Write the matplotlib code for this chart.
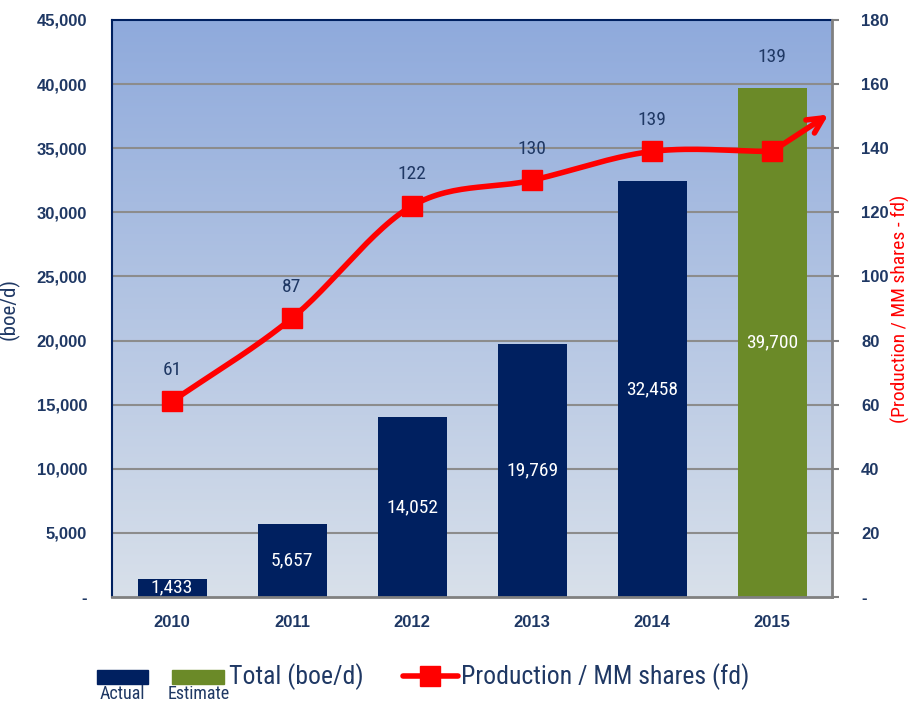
import numpy as np
import matplotlib
matplotlib.use("Agg")
import matplotlib.pyplot as plt
from matplotlib.patches import Rectangle
from matplotlib.lines import Line2D
from matplotlib.colors import LinearSegmentedColormap

years = ['2010', '2011', '2012', '2013', '2014', '2015']
total_boed = [1433, 5657, 14052, 19769, 32458, 39700]
per_share = [61, 87, 122, 130, 139, 139]
is_estimate = [False, False, False, False, False, True]

NAVY = '#002060'
GREEN = '#6B8A28'
RED = '#FF0000'
TXT = '#1F3864'
NARROW = ['Roboto Condensed', 'DejaVu Sans']
TICKF = ['Liberation Sans', 'DejaVu Sans']


def smooth(xs, ys, n=30):
    # catmull-rom through the points, like Excel's smoothed line
    xs = np.asarray(xs, float)
    ys = np.asarray(ys, float)
    px = np.concatenate([[2 * xs[0] - xs[1]], xs, [2 * xs[-1] - xs[-2]]])
    py = np.concatenate([[2 * ys[0] - ys[1]], ys, [2 * ys[-1] - ys[-2]]])
    ox, oy = [], []
    t = np.linspace(0, 1, n)
    for i in range(1, len(px) - 2):
        for p, out in ((px, ox), (py, oy)):
            p0, p1, p2, p3 = p[i - 1], p[i], p[i + 1], p[i + 2]
            out.extend(0.5 * (2 * p1 + (-p0 + p2) * t + (2 * p0 - 5 * p1 + 4 * p2 - p3) * t ** 2
                              + (-p0 + 3 * p1 - 3 * p2 + p3) * t ** 3))
    return np.array(ox), np.array(oy)


fig = plt.figure(figsize=(9.1, 7.05), dpi=100)
ax = fig.add_axes([112 / 910, 108 / 705, 720 / 910, 577 / 705])
x = np.arange(len(years))

# gradient background
grad = LinearSegmentedColormap.from_list('bg', ['#D8E0EA', '#8FAADC'])
ax.imshow(np.linspace(0, 1, 256).reshape(-1, 1), cmap=grad, origin='lower', aspect='auto',
          extent=(-0.5, 5.5, 0, 45000), zorder=0)
ax.set_xlim(-0.5, 5.5)
ax.set_ylim(0, 45000)

for v in range(5000, 45000, 5000):
    ax.axhline(v, color='#8C8C8C', lw=1.5, zorder=0.5)

colors = [GREEN if e else NAVY for e in is_estimate]
ax.bar(x, total_boed, width=0.575, color=colors, zorder=2)
for xi, v in zip(x, total_boed):
    ax.text(xi, v / 2, f'{v:,}', ha='center', va='center', color='white', fontsize=14,
            family=NARROW, zorder=3)

ax.set_xticks(x)
ax.set_xticklabels(years, fontsize=12, fontweight='bold', color=TXT, family=TICKF)
ax.set_yticks(range(0, 45001, 5000))
ax.set_yticklabels(['-'] + [f'{v:,}' for v in range(5000, 45001, 5000)],
                   fontsize=12, fontweight='bold', color=TXT, family=TICKF)
ax.tick_params(axis='y', length=0, pad=18)
ax.tick_params(axis='x', length=0, pad=13)
ax.set_ylabel('(boe/d)', family=NARROW, fontsize=15, color=TXT)
ax.yaxis.set_label_coords(-0.128, 0.5)

for s in ('left', 'top'):
    ax.spines[s].set_color(NAVY)
    ax.spines[s].set_linewidth(1.5)
ax.spines['bottom'].set_color('#808080')
ax.spines['bottom'].set_linewidth(2)
ax.spines['right'].set_visible(False)

# per-share line on right axis
ax2 = ax.twinx()
ax2.set_ylim(0, 180)
ax2.patch.set_visible(False)
sx, sy = smooth(x, per_share)
ax2.plot(sx, sy, color=RED, lw=4, zorder=4, solid_capstyle='round')
ax2.plot(x, per_share, ls='none', marker='s', ms=15, color=RED, zorder=5)
ax2.annotate('', xy=(x[-1] + 0.47, per_share[-1] + 11.5), xytext=(x[-1], per_share[-1]),
             arrowprops=dict(arrowstyle='->', color=RED, lw=4, mutation_scale=28,
                             shrinkA=0, shrinkB=0), zorder=4)

for xi, v, b in zip(x, per_share, total_boed):
    top = max(v, b / 250)
    ax2.text(xi, top + 7, str(v), ha='center', va='bottom', color=TXT, fontsize=14,
             family=NARROW)

ax2.set_yticks(range(0, 181, 20))
ax2.set_yticklabels(['-'] + [str(v) for v in range(20, 181, 20)],
                    fontsize=12, fontweight='bold', color=TXT, family=TICKF)
ax2.tick_params(axis='y', length=5, width=1.5, color='#808080', pad=16)
ax2.spines['right'].set_color('#808080')
ax2.spines['right'].set_linewidth(2)
for s in ('left', 'top', 'bottom'):
    ax2.spines[s].set_visible(False)
ax2.set_ylabel('(Production / MM shares - fd)', family=NARROW, fontsize=14, color=RED)
ax2.yaxis.set_label_coords(1.081, 0.5)

# legend, drawn by hand
W, H = 910, 705
fig.patches.append(Rectangle((97 / W, 1 - 684 / H), 51 / W, 14 / H, color=NAVY,
                             transform=fig.transFigure, figure=fig))
fig.patches.append(Rectangle((172 / W, 1 - 684 / H), 52 / W, 14 / H, color=GREEN,
                             transform=fig.transFigure, figure=fig))
fig.text(122 / W, 1 - 694 / H, 'Actual', ha='center', va='center', fontsize=13,
         family=NARROW, color=TXT)
fig.text(199 / W, 1 - 694 / H, 'Estimate', ha='center', va='center', fontsize=13,
         family=NARROW, color=TXT)
fig.text(229 / W, 1 - 677 / H, 'Total (boe/d)', ha='left', va='center', fontsize=18.5,
         family=NARROW, color=TXT)
fig.lines.append(Line2D([403 / W, 458 / W], [1 - 676 / H] * 2, color=RED, lw=4,
                        transform=fig.transFigure, figure=fig, solid_capstyle='round'))
fig.lines.append(Line2D([430 / W], [1 - 676 / H], color=RED, marker='s', ms=14,
                        transform=fig.transFigure, figure=fig))
fig.text(461 / W, 1 - 677 / H, 'Production / MM shares (fd)', ha='left', va='center',
         fontsize=18.5, family=NARROW, color=TXT)

fig.savefig('out.png', dpi=100)
